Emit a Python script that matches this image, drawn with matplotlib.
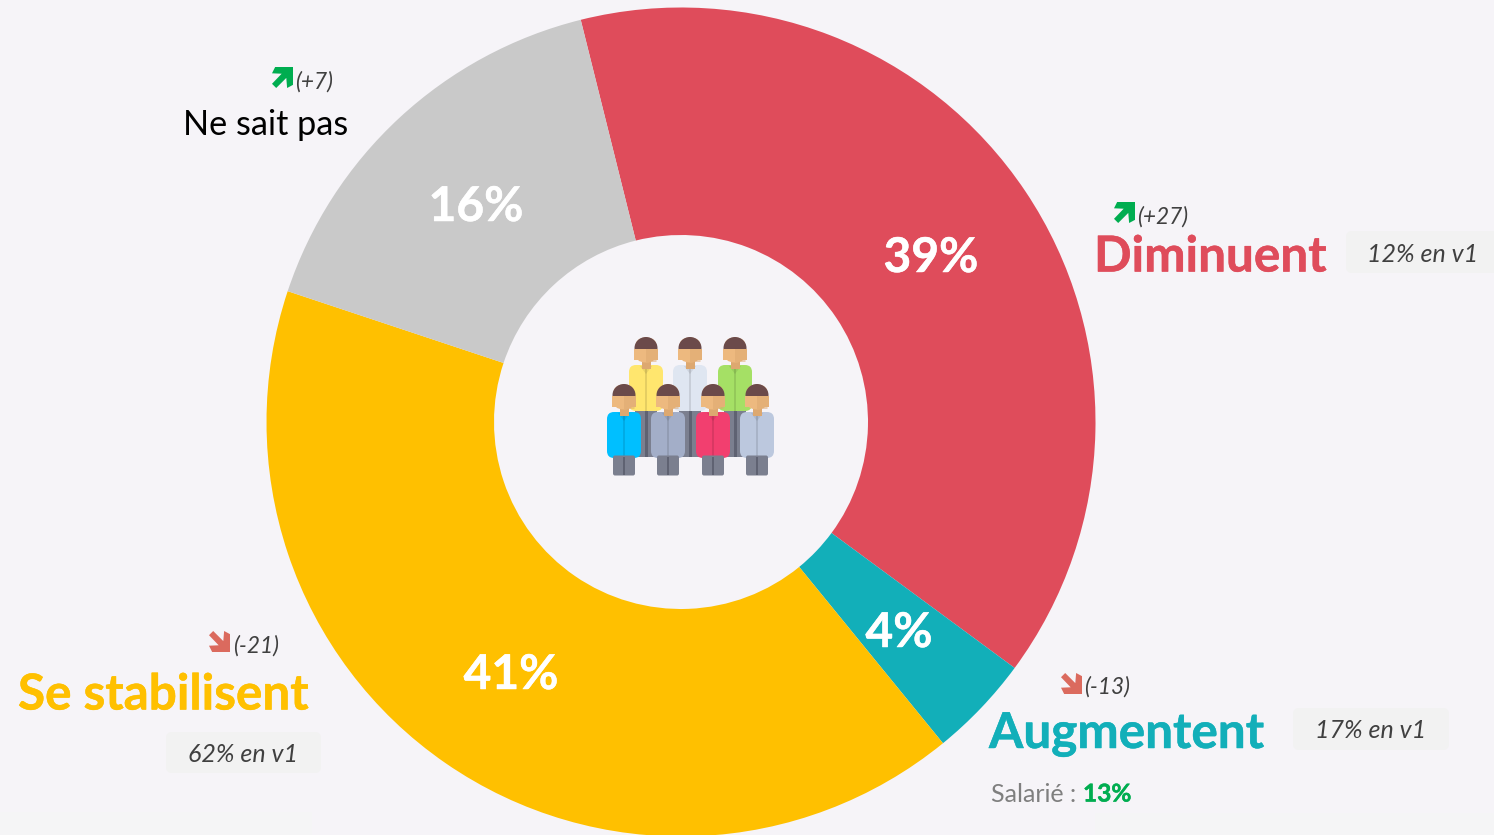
import matplotlib
matplotlib.use('Agg')
import matplotlib.pyplot as plt
import matplotlib.patheffects as pe
from matplotlib.patches import FancyBboxPatch, Polygon, Ellipse, Rectangle

plt.rcParams['font.family'] = ['Lato', 'Open Sans', 'DejaVu Sans']

W, H = 1494, 835
BG = '#F6F4F8'

# Donnees
categories = ['Diminuent', 'Augmentent', 'Se stabilisent', 'Ne sait pas']
values = [39, 4, 41, 16]
colors = ['#DF4C5B', '#12AFB9', '#FFC000', '#C9C9C9']
value_labels = ['39%', '4%', '41%', '16%']
evolutions = ['(+27)', '(-13)', '(-21)', '(+7)']
v1_labels = ['12% en v1', '17% en v1', '62% en v1']

fig = plt.figure(figsize=(W / 100, H / 100), dpi=100, facecolor=BG)
ax = fig.add_axes([0, 0, 1, 1])


def Y(y):
    # coordonnees image -> axes
    return H - y


ax.add_patch(Rectangle((0, Y(835)), 312, 23, fc='#F5F5F6', ec='none', zorder=0))
ax.add_patch(Rectangle((1095, Y(835)), 399, 22, fc='#F5F5F6', ec='none', zorder=0))

ax.pie(values, colors=colors, startangle=104, counterclock=False,
       center=(681, Y(422)), radius=414.5, frame=True,
       wedgeprops=dict(width=227.5, linewidth=0))
ax.set_xlim(0, W)
ax.set_ylim(0, H)
ax.set_aspect('equal')
ax.axis('off')


def bold(x, y, label, color, size, ha='left'):
    t = ax.text(x, Y(y), label, color=color, fontsize=size, fontweight='bold', ha=ha, va='center', zorder=3)
    t.set_path_effects([pe.withStroke(linewidth=0.35, foreground=color)])


# pourcentages dans l'anneau
bold(931, 258, value_labels[0], 'white', 34.5, 'center')
bold(899, 633, value_labels[1], 'white', 34.5, 'center')
bold(511, 675, value_labels[2], 'white', 34.5, 'center')
bold(476, 207, value_labels[3], 'white', 34.5, 'center')

# libelles
bold(1094, 257, categories[0], colors[0], 35.6)
bold(989, 734, categories[1], colors[1], 35.6)
bold(18, 695, categories[2], colors[2], 35.6)
ax.text(183, Y(125), categories[3], color='black', fontsize=24.7, ha='left', va='center')

# evolutions
EV = '#404040'
ax.text(1137, Y(217), evolutions[0], color=EV, fontsize=16.3, style='italic', ha='left', va='center')
ax.text(1084, Y(687), evolutions[1], color=EV, fontsize=16.3, style='italic', ha='left', va='center')
ax.text(233, Y(646), evolutions[2], color=EV, fontsize=16.3, style='italic', ha='left', va='center')
ax.text(295, Y(82), evolutions[3], color=EV, fontsize=16.3, style='italic', ha='left', va='center')


def arrow(x0, y0, size, up, color):
    # fleche diagonale, x0,y0 = coin haut gauche de sa boite
    s = size
    pts = [(0.15, 0), (1, 0), (1, 0.85), (0.72, 1), (0.68, 0.52), (0.2, 1), (0, 0.8), (0.46, 0.32), (0, 0.3)]
    if not up:
        pts = [(a, 1 - b) for a, b in pts]
    ax.add_patch(Polygon([(x0 + a * s, Y(y0 + b * s)) for a, b in pts], closed=True, fc=color, ec='none', zorder=3))


arrow(1114, 202, 21, True, '#00AD50')
arrow(272, 67, 21, True, '#00AD50')
arrow(1061, 673, 21, False, '#DB6A5E')
arrow(209, 631, 21, False, '#DB6A5E')


def pill(x0, y0, x1, y1, text_x, label):
    ax.add_patch(FancyBboxPatch((x0 + 6, Y(y1) + 6), x1 - x0 - 12, y1 - y0 - 12,
                                boxstyle='round,pad=6,rounding_size=6', fc='#F2F2F2', ec='none', zorder=1))
    ax.text(text_x, Y((y0 + y1) / 2 + 2), label, color=EV, fontsize=18, style='italic',
            ha='center', va='center', zorder=2)


pill(1346, 231, 1500, 273, 1423, v1_labels[0])
pill(1293, 708, 1449, 750, 1371, v1_labels[1])
pill(166, 732, 321, 773, 243, v1_labels[2])

ax.text(991, Y(794), 'Salarié : ', color='#7F7F7F', fontsize=18, ha='left', va='center')
bold(1083, 794, '13%', '#00AD50', 17.6)


def person(cx, top, shirt, back):
    # pantalon
    if back:
        ax.add_patch(Rectangle((cx - 11, Y(top + 120)), 22, 47, fc='#7B7F8F', ec='none', zorder=4))
        ax.add_patch(Rectangle((cx - 1.5, Y(top + 120)), 3, 47, fc='#5F6272', ec='none', zorder=4))
    else:
        ax.add_patch(FancyBboxPatch((cx - 9.5, Y(top + 90)), 19, 17, boxstyle='round,pad=1.5,rounding_size=2',
                                    fc='#7B7F8F', ec='none', zorder=6))
        ax.add_patch(Rectangle((cx - 1, Y(top + 91)), 2, 18, fc='#5F6272', ec='none', zorder=6))
    # chemise
    z = 4 if back else 5
    ax.add_patch(FancyBboxPatch((cx - 10, Y(top + 67)), 20, 32, boxstyle='round,pad=7,rounding_size=7',
                                fc=shirt, ec='none', zorder=z))
    ax.add_patch(Rectangle((cx - 1, Y(top + 74)), 2, 42, fc='black', alpha=0.10, ec='none', zorder=z))
    ax.add_patch(Polygon([(cx - 6, Y(top + 29)), (cx + 6, Y(top + 29)), (cx, Y(top + 37))], fc='black', alpha=0.08,
                         ec='none', zorder=z))
    # tete
    ax.add_patch(Rectangle((cx - 4.5, Y(top + 32)), 9, 10, fc='#DDA870', ec='none', zorder=6))
    ax.add_patch(FancyBboxPatch((cx - 10.5, Y(top + 25)), 21, 24, boxstyle='round,pad=0.5,rounding_size=10.5',
                                fc='#EDB97F', ec='none', zorder=6))
    ax.add_patch(Polygon([(cx, Y(top + 25)), (cx + 10.5, Y(top + 25)), (cx + 11, Y(top + 13)), (cx, Y(top + 13))],
                         fc='#DDA870', alpha=0.5, ec='none', zorder=6))
    ax.add_patch(Ellipse((cx, Y(top + 11)), 23, 22, fc='#6B4A4A', ec='none', zorder=7))
    ax.add_patch(Rectangle((cx - 12, Y(top + 23)), 24, 11.5, fc='#EDB97F', ec='none', zorder=7))
    ax.add_patch(Rectangle((cx, Y(top + 23)), 12, 11.5, fc='#DDA870', alpha=0.5, ec='none', zorder=7))


person(646, 337, '#FFE66E', True)
person(690, 337, '#DFE6F1', True)
person(735, 337, '#A5E065', True)
person(624, 384, '#00BFFF', False)
person(668, 384, '#A3AEC8', False)
person(713, 384, '#F23F6F', False)
person(757, 384, '#BCC8DE', False)

plt.savefig('out.png', dpi=100, facecolor=BG)
plt.close()
